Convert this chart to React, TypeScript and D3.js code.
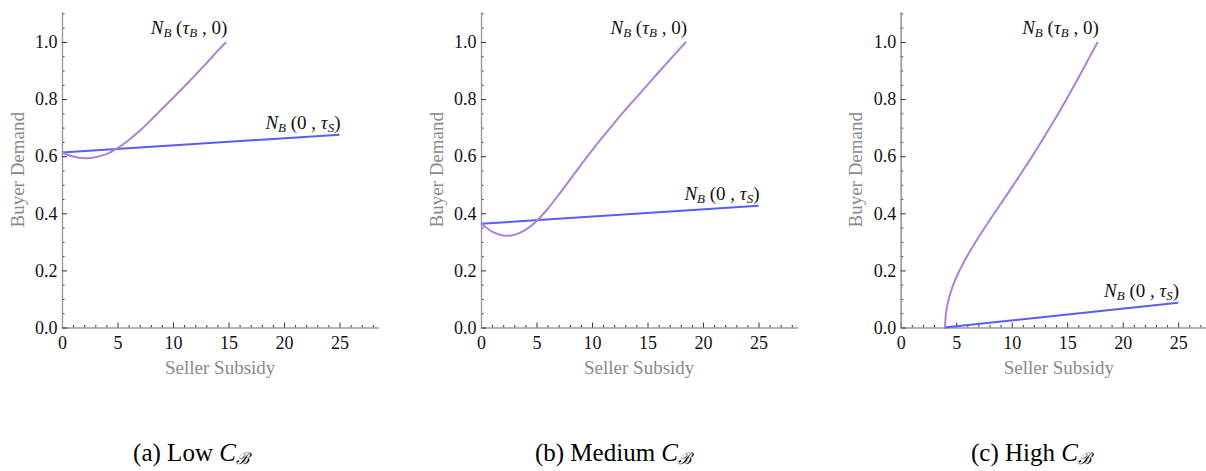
import React, { useEffect, useRef } from "react";
import * as d3 from "d3";

// tick values
const xMajor = [0, 5, 10, 15, 20, 25];
const yMajor = [0, 0.2, 0.4, 0.6, 0.8, 1.0];
const xMinor = d3.range(0, 29).filter(d => d % 5 !== 0);
const yMinor = d3.range(0, 23).map(i => i * 0.05).filter((d, i) => i % 4 !== 0);

// (a) low C_B
const lowTau = [0, 1, 2, 3, 4, 5, 6, 7, 8, 9, 10, 11, 12, 13, 14, 14.8];
const lowBuyerSub = [0.613, 0.599, 0.593, 0.596, 0.607, 0.628, 0.656, 0.689, 0.726, 0.765, 0.804, 0.843, 0.884, 0.925, 0.968, 1.0];
const lowSellerTau = [0, 25];
const lowSellerSub = [0.613, 0.675];

// (b) medium C_B
const medTau = [0, 1, 2, 3, 4, 5, 6, 7, 8, 9, 10, 11, 12, 13, 14, 15, 16, 17, 18, 18.47];
const medBuyerSub = [0.364, 0.336, 0.322, 0.3245, 0.342, 0.3725, 0.415, 0.465, 0.517, 0.569, 0.62, 0.669, 0.716, 0.762, 0.806, 0.85, 0.894, 0.937, 0.98, 1.0];
const medSellerTau = [0, 25];
const medSellerSub = [0.363, 0.426];

// (c) high C_B
const highTau = [4, 4.02, 4.06, 4.12, 4.2, 4.35, 4.55, 4.8, 5.1, 5.5, 6, 7, 8, 9, 10, 11, 12, 13, 14, 15, 16, 17, 17.75];
const highBuyerSub = [0, 0.0245, 0.042, 0.06, 0.078, 0.103, 0.129, 0.156, 0.183, 0.215, 0.251, 0.315, 0.375, 0.4325, 0.49, 0.549, 0.609, 0.672, 0.736, 0.8035, 0.8735, 0.946, 1.0];
const highSellerTau = [3.93, 25];
const highSellerSub = [0, 0.087];

const captions = ["(a) Low ", "(b) Medium ", "(c) High "];

const PURPLE = "#ac82d4";
const BLUE = "#5a5cf6";
const SERIF = "Liberation Serif";

const panels = [
  { left: 62, tau: lowTau, buyer: lowBuyerSub, sTau: lowSellerTau, seller: lowSellerSub, caption: captions[0], cx: 191 },
  { left: 481, tau: medTau, buyer: medBuyerSub, sTau: medSellerTau, seller: medSellerSub, caption: captions[1], cx: 613 },
  { left: 900.7, tau: highTau, buyer: highBuyerSub, sTau: highSellerTau, seller: highSellerSub, caption: captions[2], cx: 1031 },
];

const TOP = 12;
const BOTTOM = 327.5;

function Label({ x, y, sub }) {
  // N_B (τ_B , 0)  or  N_B (0 , τ_S)
  return (
    <text x={x} y={y} textAnchor="end" fontFamily={SERIF} fontSize={19} fill="#111">
      <tspan fontStyle="italic">N</tspan>
      <tspan fontStyle="italic" fontSize={13} dy={3}>B</tspan>
      <tspan dy={-3}>{" ("}</tspan>
      {sub === "B" ? (
        <>
          <tspan fontStyle="italic">τ</tspan>
          <tspan fontStyle="italic" fontSize={13} dy={3}>B</tspan>
          <tspan dy={-3}>{" , 0)"}</tspan>
        </>
      ) : (
        <>
          <tspan>{"0 , "}</tspan>
          <tspan fontStyle="italic">τ</tspan>
          <tspan fontStyle="italic" fontSize={13} dy={3}>S</tspan>
          <tspan dy={-3}>)</tspan>
        </>
      )}
    </text>
  );
}

function Panel({ p }) {
  const xRef = useRef(null);
  const yRef = useRef(null);
  const xMinRef = useRef(null);
  const yMinRef = useRef(null);

  const x = d3.scaleLinear().domain([0, 28.5]).range([p.left, p.left + 28.5 * 11.1]);
  const y = d3.scaleLinear().domain([0, 1.105]).range([BOTTOM, TOP]);

  useEffect(() => {
    const xAxis = d3.axisBottom(x).tickValues(xMajor).tickSize(-5).tickSizeOuter(0).tickPadding(9).tickFormat(d3.format("d"));
    const yAxis = d3.axisLeft(y).tickValues(yMajor).tickSize(-5).tickSizeOuter(0).tickPadding(4.5).tickFormat(d3.format(".1f"));
    const xMin = d3.axisBottom(x).tickValues(xMinor).tickSize(-2.5).tickSizeOuter(0).tickFormat(() => "");
    const yMin = d3.axisLeft(y).tickValues(yMinor).tickSize(-2.5).tickSizeOuter(0).tickFormat(() => "");

    const style = (g) => {
      g.attr("font-family", SERIF).attr("font-size", 18);
      g.select(".domain").attr("stroke", "#9a9a9a").attr("stroke-width", 1.2);
      g.selectAll(".tick line").attr("stroke", "#333").attr("stroke-width", 1);
      g.selectAll(".tick text")
        .attr("fill", "#111")
        .style("font-family", `"${SERIF}", serif`)
        .style("font-size", "18px");
    };
    d3.select(xMinRef.current).call(xMin).call(style);
    d3.select(yMinRef.current).call(yMin).call(style);
    d3.select(xRef.current).call(xAxis).call(style);
    d3.select(yRef.current).call(yAxis).call(style);
  }, []);

  const curve = d3.line().x(d => x(d[0])).y(d => y(d[1])).curve(d3.curveCatmullRom.alpha(0.5));
  const buyerPts = p.tau.map((t, i) => [t, p.buyer[i]]);
  const sellerPts = p.sTau.map((t, i) => [t, p.seller[i]]);
  const bEnd = buyerPts[buyerPts.length - 1];
  const sEnd = sellerPts[sellerPts.length - 1];

  return (
    <g>
      <g ref={xMinRef} transform={`translate(0,${BOTTOM})`} />
      <g ref={yMinRef} transform={`translate(${p.left},0)`} />
      <g ref={xRef} transform={`translate(0,${BOTTOM})`} />
      <g ref={yRef} transform={`translate(${p.left},0)`} />
      <path d={curve(sellerPts)} fill="none" stroke={BLUE} strokeWidth={2} />
      <path d={curve(buyerPts)} fill="none" stroke={PURPLE} strokeWidth={2} />
      <Label x={x(bEnd[0]) + 1} y={y(bEnd[1]) - 8} sub="B" />
      <Label x={x(sEnd[0]) + 1} y={y(sEnd[1]) - 6} sub="S" />
      <text
        transform={`translate(${p.left - 45},${(TOP + BOTTOM) / 2}) rotate(-90)`}
        textAnchor="middle"
        dy="0.35em"
        fontFamily={SERIF}
        fontSize={19}
        fill="#8a8a8a"
      >
        Buyer Demand
      </text>
      <text
        x={(x.range()[0] + x.range()[1]) / 2}
        y={374}
        textAnchor="middle"
        fontFamily={SERIF}
        fontSize={19}
        fill="#8a8a8a"
      >
        Seller Subsidy
      </text>
      <text x={p.cx} y={461} textAnchor="middle" fontFamily={SERIF} fontSize={25} fill="#000">
        {p.caption}
        <tspan fontStyle="italic">C</tspan>
        <tspan fontStyle="italic" fontSize={16} dy={3}>ℬ</tspan>
      </text>
    </g>
  );
}

export default function App() {
  return (
    <svg width={1206} height={471} style={{ position: "absolute", left: 0, top: 0, background: "#fff" }}>
      {panels.map((p, i) => (
        <Panel key={i} p={p} />
      ))}
    </svg>
  );
}
